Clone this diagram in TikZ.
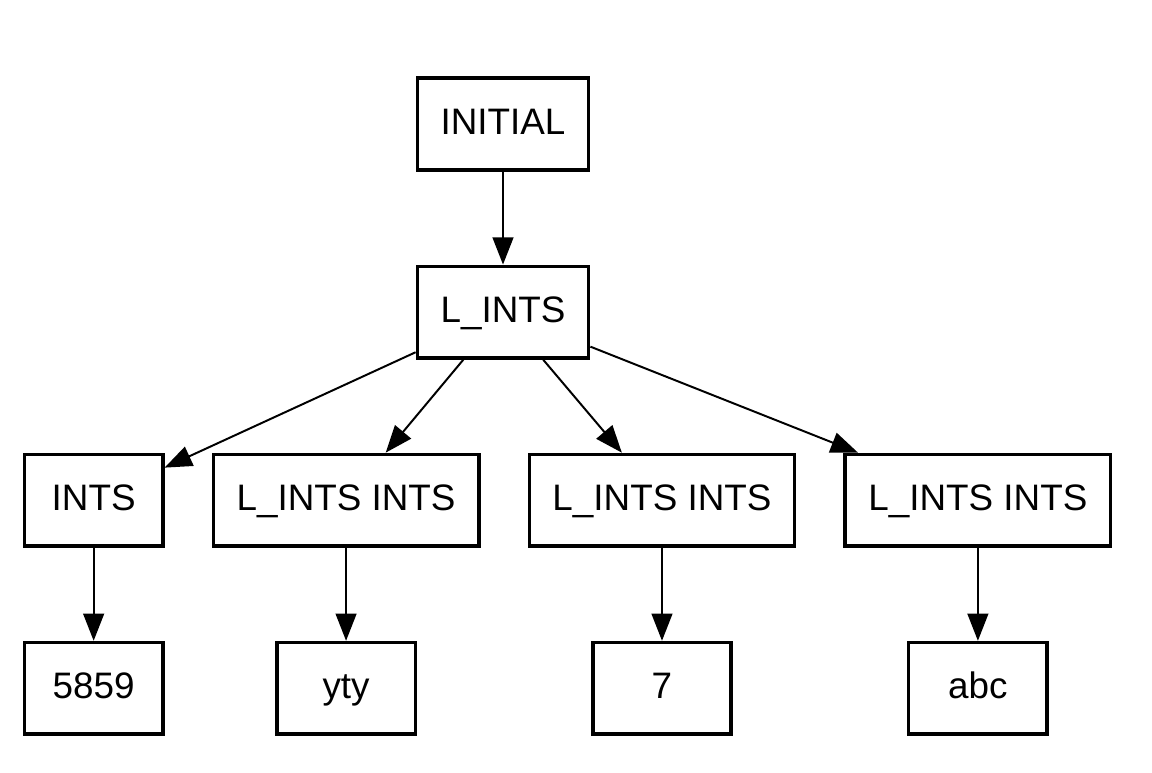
\documentclass[tikz,border=0pt]{standalone}
\usepackage{fontspec}
\setmainfont{Liberation Sans}
\usetikzlibrary{arrows.meta,positioning}

\begin{document}
\begin{tikzpicture}[
  box/.style={draw, line width=2.5pt, minimum width=3.46cm, minimum height=2.29cm, inner xsep=0.58cm,
    text height=0.66cm, text depth=0.15cm, font=\fontsize{26.2}{31}\selectfont},
  arrow/.style={-{Triangle[length=0.68cm, width=0.52cm]}, line width=1.4pt}
]
  \useasboundingbox (0,0) rectangle (28.8,-19.3);

  \node[box] (initial) at (12.575,-3.1) {INITIAL};
  \node[box, below=2.325cm of initial] (lints) {L\_INTS};

  \node[box, below left=2.325cm and 6.275cm of lints] (ints) {INTS};
  \node[box, right=1.175cm of ints] (lintsA) {L\_INTS INTS};
  \node[box, right=1.175cm of lintsA] (lintsB) {L\_INTS INTS};
  \node[box, right=1.175cm of lintsB] (lintsC) {L\_INTS INTS};

  \node[box, below=2.325cm of ints] (num) {5859};
  \node[box, below=2.325cm of lintsA] (yty) {yty};
  \node[box, below=2.325cm of lintsB] (seven) {7};
  \node[box, below=2.325cm of lintsC] (abc) {abc};

  \draw[arrow] (initial) -- (lints);
  \draw[arrow] (lints) -- (ints);
  \draw[arrow] (lints) -- (lintsA);
  \draw[arrow] (lints) -- (lintsB);
  \draw[arrow] (lints) -- (lintsC);
  \draw[arrow] (ints) -- (num);
  \draw[arrow] (lintsA) -- (yty);
  \draw[arrow] (lintsB) -- (seven);
  \draw[arrow] (lintsC) -- (abc);
\end{tikzpicture}
\end{document}
